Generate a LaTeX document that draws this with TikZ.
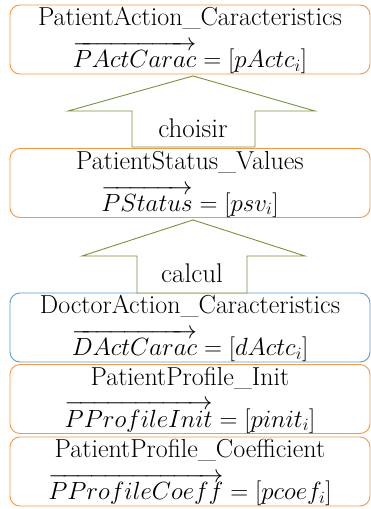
\documentclass[tikz,border=0pt]{standalone}
\usepackage{amsmath}
\usetikzlibrary{calc,positioning}

\definecolor{boxorange}{HTML}{F79646}
\definecolor{boxblue}{HTML}{5B9BD5}
\definecolor{arrowgreen}{HTML}{77933C}

\tikzset{
    databox/.style={draw=boxorange, line width=0.9pt, rounded corners=10pt,
        minimum width=360pt, minimum height=69pt, inner sep=0pt},
    bluebox/.style={databox, draw=boxblue},
    titletext/.style={anchor=base, inner sep=0pt, font=\fontsize{26}{30}\selectfont},
    formulatext/.style={anchor=base, inner sep=0pt, font=\fontsize{27}{32}\selectfont},
    blockarrow/.style={draw=arrowgreen, line width=0.9pt, fill=white},
    arrowlabel/.style={font=\fontsize{27}{30}\selectfont}
}

\begin{document}
\begin{tikzpicture}[x=1pt, y=-1pt]
    \useasboundingbox (0,0) rectangle (370,509);

    % boxes, top to bottom
    \node[databox] (pact) at (190,39.5) {};
    \node[titletext] (pact-t) at ($(pact.north)+(0,21)$) {PatientAction\_Caracteristics};
    \node[formulatext] (pact-f) at ($(pact.north)+(0,63)$) {$\overrightarrow{PActCarac}=[pActc_i]$};

    \node[databox] (pstatus) at (190,183) {};
    \node[titletext] (pstatus-t) at ($(pstatus.north)+(0,21)$) {PatientStatus\_Values};
    \node[formulatext] (pstatus-f) at ($(pstatus.north)+(0,63)$) {$\overrightarrow{PStatus}=[psv_i]$};

    \node[bluebox] (dact) at (190,327.5) {};
    \node[titletext] (dact-t) at ($(dact.north)+(0,21)$) {DoctorAction\_Caracteristics};
    \node[formulatext] (dact-f) at ($(dact.north)+(0,63)$) {$\overrightarrow{DActCarac}=[dActc_i]$};

    \node[databox] (pinit) at (190,399) {};
    \node[titletext] (pinit-t) at ($(pinit.north)+(0,21)$) {PatientProfile\_Init};
    \node[formulatext] (pinit-f) at ($(pinit.north)+(0,63)$) {$\overrightarrow{PProfileInit}=[pinit_i]$};

    \node[databox] (pcoef) at (190,471.5) {};
    \node[titletext] (pcoef-t) at ($(pcoef.north)+(0,21)$) {PatientProfile\_Coefficient};
    \node[formulatext] (pcoef-f) at ($(pcoef.north)+(0,63)$) {$\overrightarrow{PProfileCoeff}=[pcoef_i]$};

    % choisir
    \coordinate (tipa) at ($(pact.south)+(3,1.5)$);
    \draw[blockarrow] (tipa) -- (315,111) -- (255,111) -- (255,147) -- (132,147) -- (132,111) -- (68,111) -- cycle;
    \node[arrowlabel] (choisir) at (193,128) {choisir};

    % calcul
    \coordinate (tipb) at ($(pstatus.south)+(3,2)$);
    \draw[blockarrow] (tipb) -- (305,256) -- (247,256) -- (247,293) -- (137,293) -- (137,256) -- (82,256) -- cycle;
    \node[arrowlabel] (calcul) at (192,273) {calcul};
\end{tikzpicture}
\end{document}
